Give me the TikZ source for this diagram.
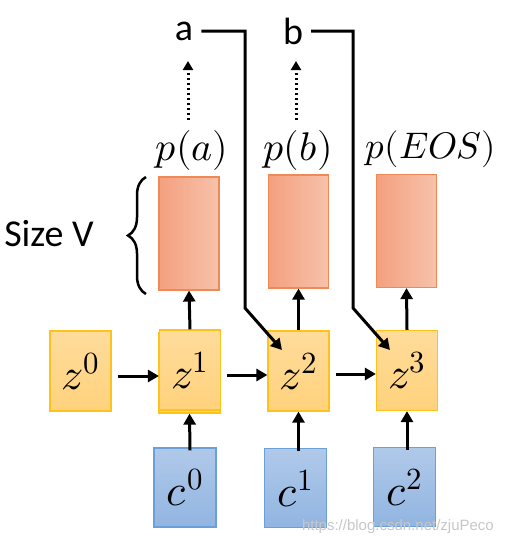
\documentclass[tikz,border=0pt]{standalone}
\usepackage{fontspec}
\usepackage{unicode-math}
\setmathfont{Latin Modern Math}
\newfontfamily\calfont{Carlito}
\newfontfamily\wmfont{Liberation Sans}
\usetikzlibrary{arrows.meta,decorations.pathreplacing,calc}
\definecolor{redfillL}{HTML}{F4A07E}
\definecolor{redfillR}{HTML}{F7C2AB}
\definecolor{redline}{HTML}{F08A55}
\definecolor{orT}{HTML}{FFDC9C}
\definecolor{orB}{HTML}{FFD27C}
\definecolor{orline}{HTML}{FFC21A}
\definecolor{blT}{HTML}{B0C9E9}
\definecolor{blB}{HTML}{91B5E1}
\definecolor{blline}{HTML}{6A9FD8}
\tikzset{
  probbox/.style={draw=redline, line width=1.2pt, left color=redfillL, right color=redfillR, minimum width=60pt, minimum height=113pt, inner sep=0pt},
  zbox/.style={draw=orline, line width=1.2pt, top color=orT, bottom color=orB, minimum width=61pt, minimum height=80pt, inner sep=0pt, font=\fontsize{44}{44}\selectfont},
  cbox/.style={draw=blline, line width=1.2pt, top color=blT, bottom color=blB, minimum width=62pt, minimum height=79pt, inner sep=0pt, font=\fontsize{44}{44}\selectfont},
  arr/.style={line width=3pt, -{Triangle[width=12pt,length=11pt]}},
  dotarr/.style={line width=3pt, dash pattern=on 2.5pt off 2.5pt, -{Triangle[width=10pt,length=9pt]}},
  lbl/.style={font=\calfont\fontsize{38}{38}\selectfont, inner sep=0pt},
  plbl/.style={font=\fontsize{40}{40}\selectfont, inner sep=0pt},
}
\begin{document}
\begin{tikzpicture}[x=1pt,y=-1pt]
\useasboundingbox (0,0) rectangle (504,546);
% prob boxes
\node[probbox] (r1) at (189,233.5) {};
\node[probbox] (r2) at (298.5,231.5) {};
\node[probbox] (r3) at (406.5,231) {};
% z boxes
\node[zbox] (z0) at (80.5,371) {$z^0$};
\node[zbox] (z1b) at (189.5,373) {};
\node[zbox] (z1) at (190,370) {$z^1$};
\node[zbox] (z2) at (298.5,371) {$z^2$};
\node[zbox] (z3) at (407,370.5) {$z^3$};
% c boxes
\node[cbox] (c0) at (185,487.5) {$c^0$};
\node[cbox] (c1) at (295.5,488) {$c^1$};
\node[cbox] (c2) at (404.5,487) {$c^2$};
% labels
\node[plbl] (pa) at (192,150) {$p(a)$};
\node[plbl] (pb) at (298,150) {$p(b)$};
\node[plbl, font=\fontsize{37}{37}\selectfont] (pe) at (431,149) {$p(EOS)$};
\node[lbl] (a) at (184,31) {a};
\node[lbl] (b) at (293,31) {b};
\node[lbl] (size) at (49,234) {Size V};
% brace
\draw[line width=2.5pt, decoration={brace, amplitude=18pt}, decorate] (146,294) -- (146,177);
% horizontal arrows
\draw[arr] (z0.east |- 0,376) ++(6,0) -- (z1.west |- 0,376);
\draw[arr] (z1.east |- 0,375) ++(6,0) -- (z2.west |- 0,375);
\draw[arr] (z2.east |- 0,374) ++(6,0) -- (z3.west |- 0,374);
% c -> z
\draw[arr] (c0.north -| z1) ++(0,3) -- (z1b.south);
\draw[arr] (c1.north -| z2) ++(0,3) -- (z2.south);
\draw[arr] (c2.north -| z3) ++(0,3) -- (z3.south);
% z -> prob
\draw[arr] (z1.north) -- (r1.south);
\draw[arr] (z2.north) -- (r2.south);
\draw[arr] (z3.north) -- (r3.south);
% dotted
\coordinate (da0) at (188,120);
\coordinate (da) at (188,61);
\coordinate (db0) at (296,120);
\coordinate (db) at (296,61);
\draw[dotarr] (da0) -- (da);
\draw[dotarr] (db0) -- (db);
% feedback
\coordinate (ta) at (282,350);
\coordinate (tb) at (390,350);
\draw[arr] ($(a.east)+(8,0)$) -- (245,31) -- (245,308) -- (ta);
\draw[arr] ($(b.east)+(8,0)$) -- (353,31) -- (353,308) -- (tb);
% watermark
\node[font=\wmfont\fontsize{15}{15}\selectfont, text=black!22, anchor=east, inner sep=0pt] (wm) at (494,527) {https://blog.csdn.net/zjuPeco};
\end{tikzpicture}
\end{document}
